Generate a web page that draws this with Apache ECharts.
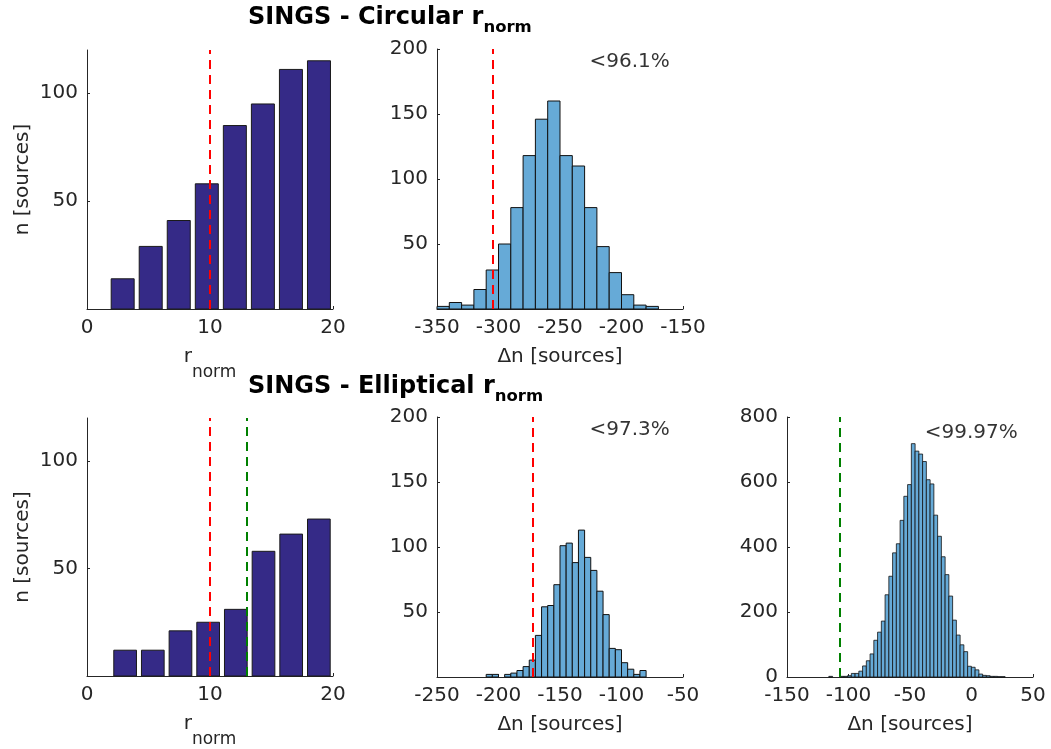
<!DOCTYPE html>
<html>
<head>
<meta charset="utf-8">
<script src="https://cdn.jsdelivr.net/npm/echarts@6/dist/echarts.min.js"></script>
<style>
  html, body { margin: 0; padding: 0; background: #fff; }
  #chart { width: 1051px; height: 749px; }
</style>
</head>
<body>
<div id="chart"></div>
<script>
// ---- data ----------------------------------------------------------------
// r_norm histograms (bar centres and source counts)
const circRnormCenters = [2.9, 5.18, 7.46, 9.74, 12.02, 14.3, 16.58, 18.86];
const circRnormCounts = [14, 29, 41, 58, 85, 95, 111, 115];
const ellipRnormCenters = [3.1, 5.35, 7.6, 9.85, 12.1, 14.35, 16.6, 18.85];
const ellipRnormCounts = [12, 12, 21, 25, 31, 58, 66, 73];
const rnormCutRed = 10;
const rnormCutGreen = 13;

// Δn distributions (first bin edge, bin width, counts)
const circDnStart = -350;
const circDnWidth = 10;
const circDnCounts = [2, 5, 3, 15, 30, 50, 78, 118, 146, 160, 118, 110, 78, 48, 28, 11, 3, 2];
const circDnObserved = -305;

const ellipDnStart = -210;
const ellipDnWidth = 5;
const ellipDnCounts = [2, 2, 0, 2, 3, 5, 8, 13, 32, 54, 55, 71, 101, 103, 88, 113, 92, 82, 66, 48, 22, 21, 11, 6, 2, 5];
const ellipDnObserved = -172;

const ellipDn13Start = -116;
const ellipDn13Width = 3.05;
const ellipDn13Counts = [2, 0, 0, 2, 2, 4, 11, 11, 18, 34, 50, 71, 113, 138, 172, 253, 310, 382, 410, 482,
  556, 592, 718, 695, 686, 663, 607, 594, 498, 433, 370, 315, 249, 175, 129, 99, 78, 33, 30, 22, 9, 5, 4, 2, 2, 1, 1];
const ellipDn13Observed = -107;

// significance annotations: [x, y, text]
const circNote = [-226, 190, '<96.1%'];
const ellipNote = [-126, 190, '<97.3%'];
const ellip13Note = [-38, 752, '<99.97%'];

// axis ranges and ticks: [min, max, interval]
const rnormRange = [0, 20, 10];
const countRange = [0, 120, 50];
const circDnRange = [-350, -150, 50];
const ellipDnRange = [-250, -50, 50];
const ellip13Range = [-150, 50, 50];
const dnCountRange = [0, 200, 50];
const dn13CountRange = [0, 800, 200];

// ---- styling --------------------------------------------------------------
const FONT = 'DejaVu Sans';
const AX = '#262626';
const BAR_FILL = '#352A87';
const HIST_FILL = '#66AAD7';
const RED = '#FF0000';
const GREEN = '#008000';

function histData(start, width, counts) {
  return counts.map((c, i) => [start + i * width, start + (i + 1) * width, c]);
}
function barData(centers, counts) {
  const step = (centers[centers.length - 1] - centers[0]) / (centers.length - 1);
  const half = 0.41 * step;
  return centers.map((c, i) => [c - half, c + half, counts[i]]);
}
function rectItem(fill, stroke, lw) {
  return function (params, api) {
    const y = api.value(2);
    if (!y) return null;
    const p0 = api.coord([api.value(0), y]);
    const p1 = api.coord([api.value(1), 0]);
    return {
      type: 'rect',
      shape: { x: p0[0], y: p0[1], width: p1[0] - p0[0], height: p1[1] - p0[1] },
      style: { fill: fill, stroke: stroke, lineWidth: lw }
    };
  };
}
function cutLine(value, color) {
  return {
    silent: true, symbol: 'none', label: { show: false },
    lineStyle: { color: color, type: [9, 6], width: 2 },
    data: [{ xAxis: value }]
  };
}
function tickValues(range, hideZero) {
  const out = [];
  for (let v = range[0]; v <= range[1]; v += range[2]) {
    if (!(hideZero && v === 0)) out.push(v);
  }
  return out;
}
function xAxisDef(gi, range, name) {
  return {
    type: 'value', gridIndex: gi, min: range[0], max: range[1], interval: range[2],
    axisLine: { show: true, onZero: false, lineStyle: { color: AX, width: 1 } },
    axisTick: { show: true, inside: true, length: 3, lineStyle: { color: AX } },
    axisLabel: { color: AX, fontFamily: FONT, fontSize: 20, margin: 9 },
    splitLine: { show: false },
    name: name, nameLocation: 'middle', nameGap: 38,
    nameTextStyle: {
      color: AX, fontFamily: FONT, fontSize: 20,
      rich: {
        m: { fontFamily: FONT, fontSize: 20, color: AX, verticalAlign: 'top', lineHeight: 22 },
        s: { fontFamily: FONT, fontSize: 17, color: AX, verticalAlign: 'top', lineHeight: 20, padding: [17, 0, 0, 0] }
      }
    }
  };
}
function yAxisDef(gi, range, hideZero, name) {
  return {
    type: 'value', gridIndex: gi, min: range[0], max: range[1], interval: range[2],
    axisLine: { show: true, onZero: false, lineStyle: { color: AX, width: 1 } },
    axisTick: {
      show: true, inside: true, length: 3, lineStyle: { color: AX },
      customValues: tickValues(range, false)
    },
    axisLabel: {
      color: AX, fontFamily: FONT, fontSize: 20, margin: 9,
      customValues: tickValues(range, hideZero),
      formatter: function (v) {
        if (v % range[2] !== 0) return '';
        if (hideZero && v === 0) return '';
        return String(v);
      }
    },
    splitLine: { show: false },
    name: name || '', nameLocation: 'middle', nameRotate: 90, nameGap: 54,
    nameTextStyle: { color: AX, fontFamily: FONT, fontSize: 20 }
  };
}
function noteSeries(xi, yi, note) {
  return {
    type: 'scatter', xAxisIndex: xi, yAxisIndex: yi, silent: true,
    symbolSize: 0, data: [[note[0], note[1]]],
    label: {
      show: true, position: 'right', distance: 0, formatter: note[2],
      color: '#000', fontFamily: FONT, fontSize: 20
    }
  };
}

const titleRich = {
  m: { fontFamily: FONT, fontSize: 24, fontWeight: 'bold', color: '#000', verticalAlign: 'top', lineHeight: 28 },
  s: { fontFamily: FONT, fontSize: 16.5, fontWeight: 'bold', color: '#000', verticalAlign: 'top', lineHeight: 20, padding: [13, 0, 0, 0] }
};
const rnormName = '{m|r}{s|norm}';
const dnName = 'Δn [sources]';

const option = {
  animation: false,
  backgroundColor: '#fff',
  textStyle: { fontFamily: FONT },
  title: [
    { text: '{m|SINGS - Circular r}{s|norm}', left: 248, top: 6, padding: 0, textStyle: { rich: titleRich } },
    { text: '{m|SINGS - Elliptical r}{s|norm}', left: 248, top: 375, padding: 0, textStyle: { rich: titleRich } }
  ],
  grid: [
    { left: 87, top: 50, width: 246, height: 259 },
    { left: 437, top: 49, width: 246, height: 260 },
    { left: 87, top: 418, width: 246, height: 259 },
    { left: 437, top: 417, width: 246, height: 260 },
    { left: 787, top: 417, width: 246, height: 260 }
  ],
  xAxis: [
    xAxisDef(0, rnormRange, rnormName),
    xAxisDef(1, circDnRange, dnName),
    xAxisDef(2, rnormRange, rnormName),
    xAxisDef(3, ellipDnRange, dnName),
    xAxisDef(4, ellip13Range, dnName)
  ],
  yAxis: [
    yAxisDef(0, countRange, true, 'n [sources]'),
    yAxisDef(1, dnCountRange, true),
    yAxisDef(2, countRange, true, 'n [sources]'),
    yAxisDef(3, dnCountRange, true),
    yAxisDef(4, dn13CountRange, false)
  ],
  series: [
    {
      type: 'custom', xAxisIndex: 0, yAxisIndex: 0,
      data: barData(circRnormCenters, circRnormCounts),
      renderItem: rectItem(BAR_FILL, '#1a1a1a', 1),
      markLine: cutLine(rnormCutRed, RED)
    },
    {
      type: 'custom', xAxisIndex: 1, yAxisIndex: 1,
      data: histData(circDnStart, circDnWidth, circDnCounts),
      renderItem: rectItem(HIST_FILL, '#111', 1),
      markLine: cutLine(circDnObserved, RED)
    },
    noteSeries(1, 1, circNote),
    {
      type: 'custom', xAxisIndex: 2, yAxisIndex: 2,
      data: barData(ellipRnormCenters, ellipRnormCounts),
      renderItem: rectItem(BAR_FILL, '#1a1a1a', 1),
      markLine: {
        silent: true, symbol: 'none', label: { show: false },
        data: [
          { xAxis: rnormCutRed, lineStyle: { color: RED, type: [9, 6], width: 2 } },
          { xAxis: rnormCutGreen, lineStyle: { color: GREEN, type: [9, 6], width: 2 } }
        ]
      }
    },
    {
      type: 'custom', xAxisIndex: 3, yAxisIndex: 3,
      data: histData(ellipDnStart, ellipDnWidth, ellipDnCounts),
      renderItem: rectItem(HIST_FILL, '#111', 1),
      markLine: cutLine(ellipDnObserved, RED)
    },
    noteSeries(3, 3, ellipNote),
    {
      type: 'custom', xAxisIndex: 4, yAxisIndex: 4,
      data: histData(ellipDn13Start, ellipDn13Width, ellipDn13Counts),
      renderItem: rectItem(HIST_FILL, '#111', 0.8),
      markLine: cutLine(ellipDn13Observed, GREEN)
    },
    noteSeries(4, 4, ellip13Note)
  ]
};

const chart = echarts.init(document.getElementById('chart'), null, { renderer: 'canvas' });
chart.setOption(option);
</script>
</body>
</html>
